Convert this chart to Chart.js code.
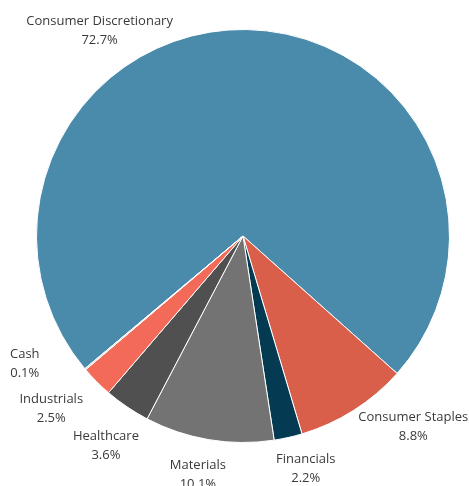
<!DOCTYPE html>
<html>
<head>
<meta charset="utf-8">
<script src="https://cdn.jsdelivr.net/npm/chart.js@4"></script>
<style>
  html, body { margin: 0; padding: 0; background: #fff; }
  #wrap { width: 469px; height: 486px; }
</style>
</head>
<body>
<div id="wrap"><canvas id="myChart"></canvas></div>
<script>
// data
const sectors = ['Consumer Discretionary', 'Consumer Staples', 'Financials', 'Materials', 'Healthcare', 'Industrials', 'Cash'];
const weights = [72.7, 8.8, 2.2, 10.1, 3.6, 2.5, 0.1];
const sliceColors = ['#4a8aab', '#d95f4a', '#053b52', '#737373', '#505050', '#f36a58', '#c9c9c9'];

// label placement (degrees from top, clockwise / distance from centre)
const labelAngle = [-35, 138.3, 164.9, 190.7, 213.1, 228, 239.6];
const labelDist = [250, 256, 241, 243, 251, 258, 253];

const outsideLabels = {
  id: 'outsideLabels',
  afterDatasetsDraw(chart) {
    const ctx = chart.ctx;
    const arc = chart.getDatasetMeta(0).data[0];
    const cx = arc.x, cy = arc.y;
    ctx.save();
    ctx.font = '13px "Open Sans"';
    ctx.fillStyle = '#3a3a3a';
    ctx.textAlign = 'center';
    ctx.textBaseline = 'middle';
    sectors.forEach((s, i) => {
      const a = labelAngle[i] * Math.PI / 180;
      const x = cx + Math.sin(a) * labelDist[i];
      const y = cy - Math.cos(a) * labelDist[i];
      ctx.fillText(s, x, y - 9.5);
      ctx.fillText(weights[i].toFixed(1) + '%', x, y + 9.5);
    });
    ctx.restore();
  }
};

var ctx = document.getElementById('myChart').getContext('2d');
var chart = new Chart(ctx, {
  type: 'pie',
  data: {
    labels: sectors,
    datasets: [{
      data: weights,
      backgroundColor: sliceColors,
      borderColor: '#ffffff',
      borderWidth: 1
    }]
  },
  options: {
    responsive: true,
    maintainAspectRatio: false,
    animation: false,
    rotation: -130,
    layout: { padding: { left: 36, right: 19, top: 29, bottom: 43 } },
    plugins: {
      legend: { display: false },
      tooltip: { enabled: false }
    }
  },
  plugins: [outsideLabels]
});
</script>
</body>
</html>
